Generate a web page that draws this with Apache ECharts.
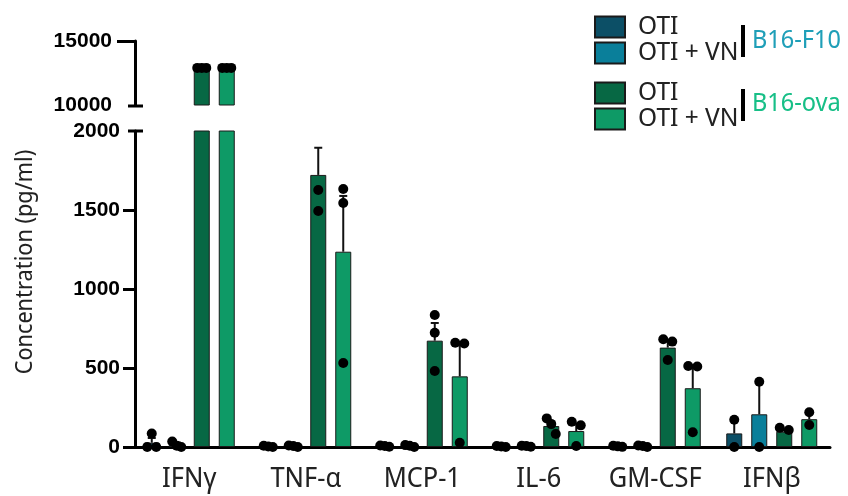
<!DOCTYPE html>
<html>
<head>
<meta charset="utf-8">
<script src="https://cdn.jsdelivr.net/npm/echarts@6/dist/echarts.min.js"></script>
<style>
  html, body { margin: 0; padding: 0; background: #fff; }
  #chart { width: 848px; height: 496px; }
</style>
</head>
<body>
<div id="chart"></div>
<script>
/* data */
var categories = ['IFNγ', 'TNF-α', 'MCP-1', 'IL-6', 'GM-CSF', 'IFNβ'];
var seriesNames = ['B16-F10 OTI', 'B16-F10 OTI + VN', 'B16-ova OTI', 'B16-ova OTI + VN'];

var f10OtiMean = [27, 4, 6, 3, 4, 86];
var f10OtiErr  = [30, 3, 4, 2, 3, 88];
var f10OtiDots = [[85, 0, 0], [0, 3, 8], [2, 6, 10], [0, 3, 6], [1, 4, 8], [173, 0]];

var f10VnMean = [14, 5, 7, 5, 5, 207];
var f10VnErr  = [15, 4, 5, 3, 3, 206];
var f10VnDots = [[35, 8, 0], [0, 6, 10], [0, 8, 12], [2, 6, 8], [0, 6, 9], [413, 0]];

var ovaOtiMean = [12900, 1722, 673, 133, 629, 97];
var ovaOtiErr  = [50, 172, 112, 29, 41, 10];
var ovaOtiDots = [[12900, 12900, 12900], [1627, 1494, 2045], [835, 723, 481], [181, 145, 82], [682, 667, 551], [108, 122]];

var ovaVnMean = [12900, 1236, 447, 101, 372, 176];
var ovaVnErr  = [50, 353, 213, 48, 141, 40];
var ovaVnDots = [[12900, 12900, 12900], [1633, 1544, 532], [660, 655, 27], [160, 137, 6], [513, 509, 93], [220, 139]];

var means = [f10OtiMean, f10VnMean, ovaOtiMean, ovaVnMean];
var errs = [f10OtiErr, f10VnErr, ovaOtiErr, ovaVnErr];
var dots = [f10OtiDots, f10VnDots, ovaOtiDots, ovaVnDots];

var colors = ['#0c4f66', '#0a7f9a', '#076844', '#0e9a66'];
var F = "'Noto Sans Display', 'Roboto', sans-serif";
var BAR_W = 16, BAR_GAP = 9, DOT_R = 5;

// upper part of the broken axis: 10000-15000, lower part: 0-2000
var ranges = [[10000, 15000], [0, 2000]];

function makeRender(lo, hi) {
    return function (params, api) {
        var cat = api.value(0), s = api.value(1);
        var cx = api.coord([cat, lo])[0] + (s - 1.5) * (BAR_W + BAR_GAP);
        var yOf = function (v) { return api.coord([cat, v])[1]; };
        var children = [];
        var m = means[s][cat], e = errs[s][cat];
        var top = m + e;
        if (e > 0 && top >= lo && m <= hi) {
            var y1 = yOf(Math.max(m, lo)), y2 = yOf(Math.min(top, hi));
            children.push({type: 'line', shape: {x1: cx, y1: y1, x2: cx, y2: y2},
                style: {stroke: '#111', lineWidth: 2}});
            if (top <= hi) {
                children.push({type: 'line', shape: {x1: cx - 4, y1: y2, x2: cx + 4, y2: y2},
                    style: {stroke: '#111', lineWidth: 2}});
            }
        }
        // dots, spread sideways where they overlap
        var ys = dots[s][cat].filter(function (v) { return v >= lo && v <= hi; })
            .map(yOf).sort(function (a, b) { return a - b; });
        var clusters = [];
        ys.forEach(function (y) {
            var c = clusters[clusters.length - 1];
            if (c && y - c[c.length - 1] < DOT_R * 2) c.push(y); else clusters.push([y]);
        });
        clusters.forEach(function (c) {
            var step = c.length > 2 ? 4.5 : 9;
            c.forEach(function (y, i) {
                children.push({type: 'circle',
                    shape: {cx: cx + (i - (c.length - 1) / 2) * step, cy: y, r: DOT_R},
                    style: {fill: '#000'}});
            });
        });
        return {type: 'group', children: children};
    };
}

var series = [];
[0, 1].forEach(function (g) {
    var lo = ranges[g][0];
    means.forEach(function (arr, s) {
        series.push({
            type: 'bar',
            name: seriesNames[s],
            xAxisIndex: g,
            yAxisIndex: g,
            data: arr.map(function (v) { return v >= lo ? v : '-'; }),
            barWidth: BAR_W,
            barGap: (BAR_GAP / BAR_W * 100) + '%',
            clip: true,
            silent: true,
            itemStyle: {color: colors[s], borderColor: '#1a1a1a', borderWidth: 1}
        });
    });
    var items = [];
    categories.forEach(function (c, ci) {
        for (var s = 0; s < 4; s++) items.push([ci, s, means[s][ci]]);
    });
    series.push({
        type: 'custom',
        xAxisIndex: g,
        yAxisIndex: g,
        renderItem: makeRender(ranges[g][0], ranges[g][1]),
        encode: {x: 0, y: 2},
        data: items,
        silent: true,
        z: 10
    });
});

var axisLineStyle = {color: '#000', width: 3};
var yLabel = {
    fontFamily: "'Liberation Sans', Arial, sans-serif", fontWeight: 'bold', fontSize: 21, color: '#000',
    formatter: function (v) { return String(v); }
};

var legendBase = {
    orient: 'vertical',
    left: 589,
    itemWidth: 30,
    itemHeight: 21,
    itemGap: 0,
    selectedMode: false,
    icon: 'rect',
    formatter: function (n) { return n.replace(/^B16-\S+ /, ''); },
    textStyle: {fontFamily: F, fontSize: 26, color: '#222', padding: [0, 0, 0, 8]}
};

var option = {
    animation: false,
    backgroundColor: '#fff',
    legend: [
        Object.assign({}, legendBase, {top: 9, data: seriesNames.slice(0, 2)}),
        Object.assign({}, legendBase, {top: 75, data: seriesNames.slice(2, 4)})
    ],
    grid: [
        {left: 131, right: 18, top: 41, height: 64},
        {left: 131, right: 18, top: 131, height: 316}
    ],
    xAxis: [
        {gridIndex: 0, type: 'category', data: categories, show: false},
        {
            gridIndex: 1, type: 'category', data: categories,
            axisLine: {lineStyle: axisLineStyle},
            axisTick: {alignWithLabel: true, length: 12, lineStyle: {color: '#000', width: 3}},
            axisLabel: {interval: 0, margin: 19, fontFamily: F, fontSize: 27, color: '#222'}
        }
    ],
    yAxis: [
        {
            gridIndex: 0, type: 'value', min: 10000, max: 15000, interval: 5000, offset: -4,
            axisLine: {show: true, lineStyle: axisLineStyle},
            axisTick: {show: true, length: 18, customValues: [15000], lineStyle: {color: '#000', width: 3}},
            axisLabel: Object.assign({margin: 23}, yLabel),
            splitLine: {show: false}
        },
        {
            gridIndex: 1, type: 'value', min: 0, max: 2000, interval: 500, offset: -4,
            name: 'Concentration (pg/ml)',
            nameLocation: 'middle',
            nameGap: 98,
            nameTextStyle: {fontFamily: F, fontSize: 23, color: '#222', padding: [0, 0, 0, 54]},
            axisLine: {show: true, lineStyle: axisLineStyle},
            axisTick: {show: true, length: 12, customValues: [0, 500, 1000, 1500], lineStyle: {color: '#000', width: 3}},
            axisLabel: Object.assign({margin: 15}, yLabel),
            splitLine: {show: false}
        }
    ],
    graphic: [
        {type: 'rect', left: 741, top: 25, shape: {width: 4, height: 32}, style: {fill: '#000'}},
        {type: 'rect', left: 741, top: 89, shape: {width: 4, height: 32}, style: {fill: '#000'}},
        {type: 'text', left: 752, top: 28, style: {text: 'B16-F10', font: '25px ' + F, fill: '#1f9fb8'}},
        {type: 'text', left: 752, top: 91, style: {text: 'B16-ova', font: '25px ' + F, fill: '#17bf87'}}
    ],
    series: series
};

var myChart = echarts.init(document.getElementById('chart'));
myChart.setOption(option);

// break marks across the y axis at both ends of the gap
var axisX = 135;
var yTop = myChart.convertToPixel({yAxisIndex: 0}, ranges[0][0]) + 1;
var yBot = myChart.convertToPixel({yAxisIndex: 1}, ranges[1][1]);
myChart.setOption({
    graphic: option.graphic.concat([
        {type: 'line', shape: {x1: axisX - 7, y1: yTop, x2: axisX + 8, y2: yTop}, style: {stroke: '#000', lineWidth: 3}},
        {type: 'line', shape: {x1: axisX - 7, y1: yBot, x2: axisX + 8, y2: yBot}, style: {stroke: '#000', lineWidth: 3}}
    ])
});
</script>
</body>
</html>
